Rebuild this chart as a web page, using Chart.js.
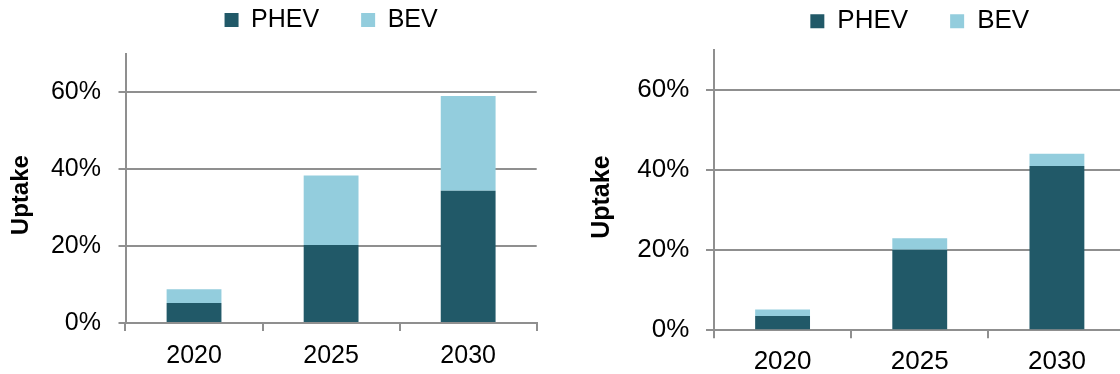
<!DOCTYPE html>
<html>
<head>
<meta charset="utf-8">
<title>PHEV and BEV uptake</title>
<script src="https://cdn.jsdelivr.net/npm/chart.js@4.4.1/dist/chart.umd.min.js"></script>
<style>
  html, body { margin: 0; padding: 0; background: #fff; overflow: hidden; }
  body { width: 1120px; height: 374px; position: relative; }
  canvas { position: absolute; top: 0; }
  #leftChart { left: 0; }
  #rightChart { left: 560px; }
</style>
</head>
<body>
<canvas id="leftChart" width="560" height="374"></canvas>
<canvas id="rightChart" width="580" height="374"></canvas>
<script>
// data (uptake in %)
const years = ['2020', '2025', '2030'];
const seriesNames = ['PHEV', 'BEV'];
const yTicks = [0, 20, 40, 60];
const yMax = 70;
const leftPhev = [5.2, 20.3, 34.4];
const leftBev = [3.6, 18.1, 24.7];
const rightPhev = [3.6, 20.1, 41.0];
const rightBev = [1.6, 2.9, 3.1];

const PHEV_COLOR = '#215968';
const BEV_COLOR = '#93cddd';
const GRID = '#8f8f8f';

Chart.defaults.font.family = '"Liberation Sans", Arial, sans-serif';
Chart.defaults.color = '#000';

function makeChart(id, phev, bev, o) {
    return new Chart(id, {
        type: 'bar',
        data: {
            labels: years,
            datasets: [
                { label: seriesNames[0], data: phev, backgroundColor: PHEV_COLOR, xAxisID: 'x', yAxisID: 'y' },
                { label: seriesNames[1], data: bev, backgroundColor: BEV_COLOR, xAxisID: 'x', yAxisID: 'y' }
            ]
        },
        options: {
            responsive: false,
            animation: false,
            categoryPercentage: 1,
            barPercentage: 0.4,
            layout: { padding: { top: o.padTop, right: o.padRight, left: 0, bottom: 0 } },
            plugins: {
                legend: {
                    fullSize: false,
                    labels: { font: { size: o.font }, boxWidth: 14, boxHeight: 14, padding: 42 }
                },
                tooltip: { enabled: false }
            },
            scales: {
                x: {
                    stacked: true,
                    grid: { offset: true, drawOnChartArea: false, color: GRID, lineWidth: 2, tickLength: 8 },
                    border: { color: GRID, width: 2 },
                    ticks: { font: { size: o.font }, padding: o.xPad },
                    afterFit: s => { s.height = o.xHeight; }
                },
                // empty band between legend and plot
                spacer: {
                    type: 'category',
                    position: 'top',
                    grid: { display: false },
                    border: { display: false },
                    ticks: { display: false },
                    afterFit: s => { s.height = o.spacer; }
                },
                y: {
                    stacked: true,
                    min: 0,
                    max: yMax,
                    afterBuildTicks: s => { s.ticks = yTicks.map(v => ({ value: v })); },
                    grid: { color: GRID, lineWidth: 2, tickLength: o.tick },
                    border: { color: GRID, width: 2 },
                    ticks: { font: { size: o.font }, padding: o.yPad, callback: v => v + '%' },
                    title: {
                        display: true,
                        text: 'Uptake  ',
                        font: { size: o.titleFont, weight: 'bold' },
                        padding: { top: o.titlePad, bottom: 0 }
                    },
                    afterFit: s => { s.width = o.yWidth; }
                }
            }
        }
    });
}

makeChart('leftChart', leftPhev, leftBev, {
    padTop: -34.5, padRight: 23.3, spacer: 11.5, xHeight: 51, yWidth: 125.5,
    tick: 7, yPad: 17.5, xPad: 10, font: 25, titleFont: 24, titlePad: 6.5
});

makeChart('rightChart', rightPhev, rightBev, {
    padTop: -33.7, padRight: 14.5, spacer: 5.7, xHeight: 43.7, yWidth: 154,
    tick: 8, yPad: 16.7, xPad: 7.8, font: 26, titleFont: 25, titlePad: 27
});
</script>
</body>
</html>
